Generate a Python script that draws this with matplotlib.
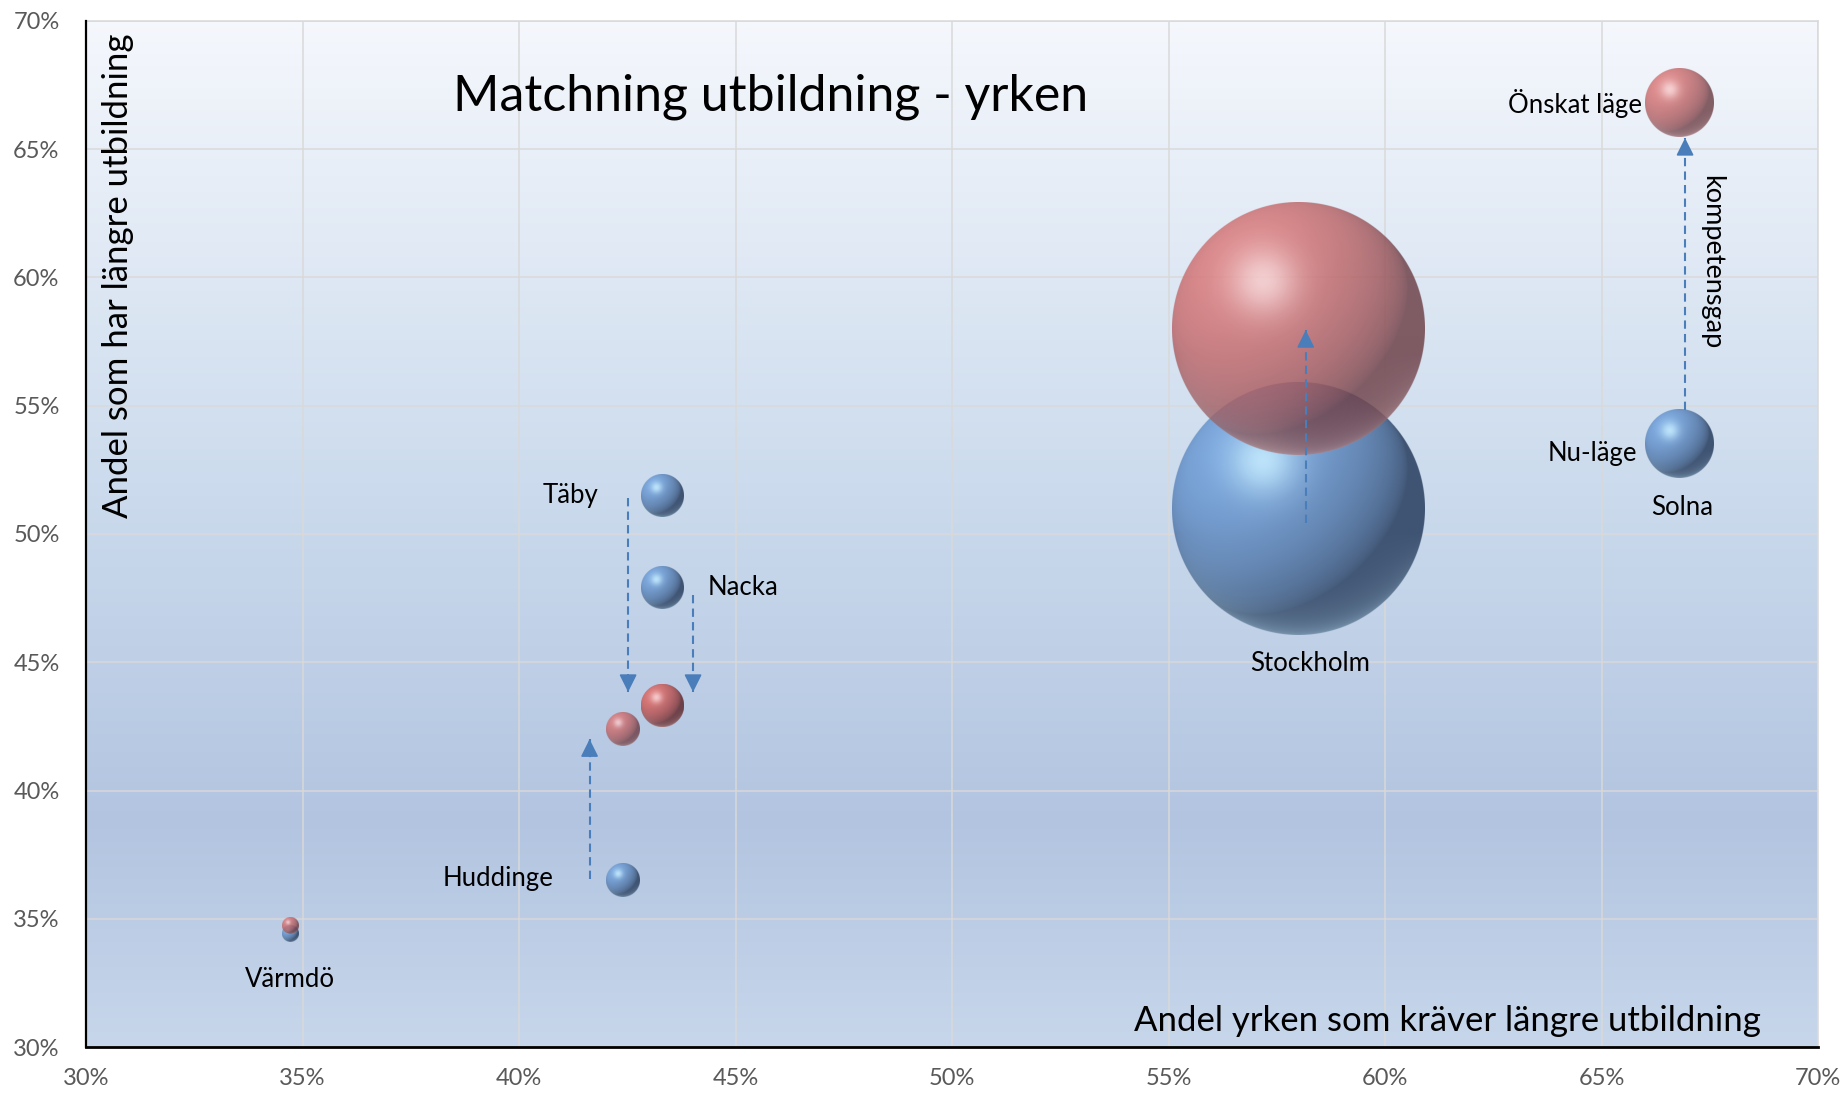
import numpy as np
import matplotlib.pyplot as plt

plt.rcParams['font.family'] = ['Lato', 'DejaVu Sans']

# kommuner: andel yrken som kräver längre utbildning (x) och andel med längre utbildning (y)
kommuner = ['Stockholm', 'Solna', 'Täby', 'Nacka', 'Huddinge', 'Värmdö']
yrken = [58.0, 66.8, 43.3, 43.3, 42.4, 34.7]
utbildade = [51.0, 53.5, 51.5, 47.9, 36.5, 34.4]
# önskat läge: andelen utbildade lika stor som andelen yrken
onskat = [58.0, 66.8, 43.3, 43.3, 42.4, 34.7]
storlek = [100, 7.3, 2.8, 2.8, 1.8, 0.4]

ticks = [30, 35, 40, 45, 50, 55, 60, 65, 70]

BLUE = dict(base=(0.49, 0.66, 0.87), light=(0.78, 0.93, 1.0), dark=(0.25, 0.33, 0.45))
RED = dict(base=(0.86, 0.46, 0.46), light=(0.99, 0.84, 0.84), dark=(0.42, 0.24, 0.27))
ARROW = '#4A7EBB'
R_MAX = 126.5  # pixel radius of the largest bubble


def sphere(n, base, light, dark, alpha=1.0):
    t = (np.arange(n) + 0.5) / n * 2 - 1
    u, v = np.meshgrid(t, -t)
    rr = np.sqrt(u ** 2 + v ** 2)
    z = np.sqrt(np.clip(1 - rr ** 2, 0, 1))
    L = np.array([-0.5, 0.55, 0.67])
    L /= np.linalg.norm(L)
    diff = np.clip(u * L[0] + v * L[1] + z * L[2], 0, 1)
    spot = np.exp(-((u + 0.28) ** 2 + (v - 0.38) ** 2) / 0.07)
    rim = np.clip(-v - 0.2, 0, 1) * (1 - z) ** 1.5
    base, light, dark = np.array(base), np.array(light), np.array(dark)
    col = dark + (base - dark) * diff[..., None] ** 0.7
    col = col + (light - col) * spot[..., None] * 0.85
    col = col + (light - col) * rim[..., None] * 0.6
    a = np.clip((1 - rr) * n / 2 + 0.5, 0, 1) * alpha
    return np.dstack([np.clip(col, 0, 1), a])


def bubble(ax, x, y, s, style, alpha=1.0, z=3):
    r = R_MAX * np.sqrt(s / max(storlek))
    cx, cy = ax.transData.transform((x, y))
    (x0, y0), (x1, y1) = ax.transData.inverted().transform([(cx - r, cy - r), (cx + r, cy + r)])
    n = max(int(4 * r), 16)
    ax.imshow(sphere(n, alpha=alpha, **style), extent=[x0, x1, y0, y1],
              aspect='auto', interpolation='antialiased', zorder=z)


def pil(ax, x, y0, y1):
    ax.plot([x, x], [y0, y1], ls=(0, (4, 2.5)), color=ARROW, lw=1.5, zorder=6)
    riktning = 1 if y1 > y0 else -1
    ax.annotate('', xy=(x, y1), xytext=(0, -11 * riktning), textcoords='offset points',
                arrowprops=dict(arrowstyle='-|>,head_length=0.6,head_width=0.3',
                                color=ARROW, lw=1.2, shrinkA=0, shrinkB=0,
                                mutation_scale=18), zorder=7)


fig = plt.figure(figsize=(18.45, 10.95), dpi=100)
ax = fig.add_axes([86 / 1845, 48 / 1095, 1732 / 1845, 1026 / 1095])
ax.set_xlim(30, 70)
ax.set_ylim(30, 70)
ax.set_autoscale_on(False)

# bakgrund med vertikal gradient
stops = np.array([0.0, 0.45, 0.78, 1.0])
cols = np.array([(0.96, 0.97, 0.99), (0.80, 0.86, 0.93), (0.70, 0.77, 0.88), (0.78, 0.84, 0.92)])
fy = np.linspace(0, 1, 400)
grad = np.stack([np.interp(fy, stops, cols[:, k]) for k in range(3)], axis=1)[:, None, :]
ax.imshow(grad, extent=[30, 70, 30, 70], aspect='auto', zorder=0)

ax.set_xticks(ticks)
ax.set_yticks(ticks)
ax.set_xticklabels([f'{t}%' for t in ticks])
ax.set_yticklabels([f'{t}%' for t in ticks])
ax.grid(True, color='#d9d9d9', lw=1.1, zorder=1)
ax.set_axisbelow(True)
ax.tick_params(length=0, labelsize=17, labelcolor='#595959')
ax.tick_params(axis='x', pad=15)
ax.tick_params(axis='y', pad=19)
for side in ['top', 'right']:
    ax.spines[side].set_color('#d9d9d9')
    ax.spines[side].set_linewidth(1.1)
ax.spines['left'].set_linewidth(1.6)
ax.spines['bottom'].set_linewidth(2.0)
ax.spines['left'].set_zorder(8)
ax.spines['bottom'].set_zorder(8)

# nu-läge (blå) och önskat läge (röd)
for x, y, s in zip(yrken, utbildade, storlek):
    bubble(ax, x, y, s, BLUE, z=3)
for x, y, s in zip(yrken, onskat, storlek):
    bubble(ax, x, y, s, RED, alpha=0.82, z=4)

# pilar från nu-läge mot önskat läge
pil(ax, 58.17, 50.43, 57.95)
pil(ax, 66.93, 54.83, 65.44)
pil(ax, 42.52, 51.4, 43.84)
pil(ax, 44.02, 47.62, 43.84)
pil(ax, 41.63, 36.56, 42.0)

# etiketter
etikett = {
    'Stockholm': ((12, -155), 'center'),
    'Solna': ((3, -63), 'center'),
    'Täby': ((-64, 0), 'right'),
    'Nacka': ((46, 0), 'left'),
    'Huddinge': ((-69, 2), 'right'),
    'Värmdö': ((0, -45), 'center'),
}
for namn, x, y in zip(kommuner, yrken, utbildade):
    (dx, dy), ha = etikett[namn]
    ax.annotate(namn, (x, y), xytext=(dx, dy), textcoords='offset pixels',
                ha=ha, va='center', fontsize=18.5, color='black', zorder=9)

ax.annotate('Nu-läge', (yrken[1], utbildade[1]), xytext=(-42, -9), textcoords='offset pixels',
            ha='right', va='center', fontsize=18.5, zorder=9)
ax.annotate('Önskat läge', (yrken[1], onskat[1]), xytext=(-37, 0), textcoords='offset pixels',
            ha='right', va='center', fontsize=18.5, zorder=9)
ax.text(67.55, 60.6, 'kompetensgap', rotation=270, ha='center', va='center',
        fontsize=19.5, zorder=9)

ax.text(0.3955, 0.926, 'Matchning utbildning - yrken', transform=ax.transAxes,
        ha='center', va='center', fontsize=36, zorder=9)
ax.text(0.967, 0.0156, 'Andel yrken som kräver längre utbildning', transform=ax.transAxes,
        ha='right', va='baseline', fontsize=25, zorder=9)
ax.text(0.0185, 0.988, 'Andel som har längre utbildning', transform=ax.transAxes,
        rotation=90, ha='center', va='top', fontsize=25, zorder=9)

fig.savefig('out.png', dpi=100)
